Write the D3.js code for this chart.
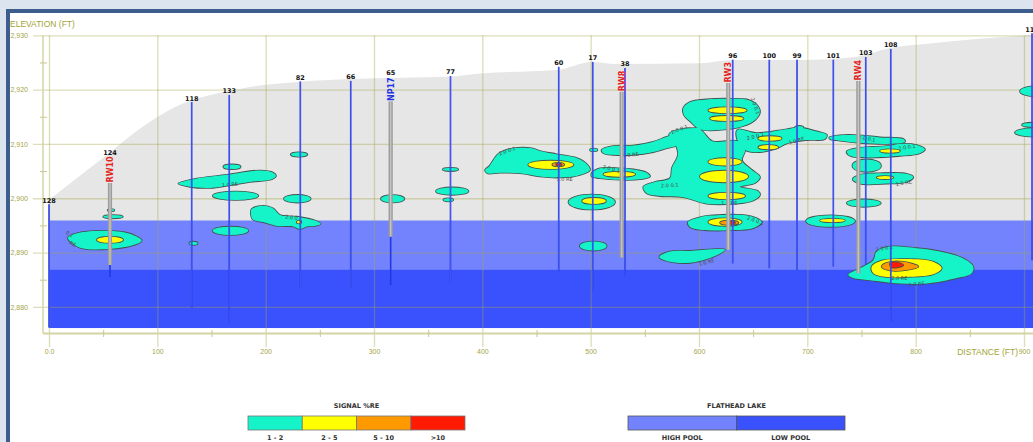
<!DOCTYPE html>
<html><head><meta charset="utf-8">
<script src="https://cdn.jsdelivr.net/npm/d3@7"></script>
<style>
html,body{margin:0;padding:0;background:#dce4ef;overflow:hidden}
svg{display:block}
</style></head><body>
<svg id="chart" width="1033" height="442"></svg>
<script>
// ---------------- DATA ----------------
const xTicks = [0,100,200,300,400,500,600,700,800,900];
const xTickLabels = ["0.0","100","200","300","400","500","600","700","800","900"];
const xMinorTicks = [50,150,250,350,450,550,650,750,850];
const yTicks = [2880,2890,2900,2910,2920,2930];
const yTickLabels = ["2,880","2,890","2,900","2,910","2,920","2,930"];
const yMinorTicks = [2885,2895,2905,2915,2925];

// ground surface profile [distance ft, elevation ft]
const groundProfile = [[0,2899.7],[47,2907.0],[93.2,2914.1],[124,2917.5],[154.8,2919.3],[185.5,2920.5],[231.7,2921.45],[277.8,2921.95],[370.2,2922.4],[400.6,2923.0],[468.6,2923.6],[501,2925.1],[524,2924.7],[601,2924.85],[631.1,2925.45],[693.2,2925.45],[745.6,2926.06],[776.3,2927.66],[813.2,2928.5],[912,2930.1]];

// Flathead Lake pools
const lakeNames = ["HIGH POOL","LOW POOL"];
const lakeTops = [2895.9, 2886.9];
const lakeBottom = 2876.1;
const lakeColors = ["#7383fd","#3a52fe"];

// wells [label, distance, top elev, bottom elev]
const wells = [
 ["128",0,2898.9,2876.2],["124",56.3,2907.6,2885.5],["118",131.7,2917.7,2879.8],
 ["133",166.4,2919.0,2877.0],["82",232.0,2921.5,2883.4],["66",278.5,2921.6,2883.5],
 ["65",315.4,2922.4,2884.0],["77",370.6,2922.5,2884.4],["60",470.5,2924.2,2886.4],
 ["17",501.9,2925.1,2882.9],["38",531.7,2924.0,2885.7],["96",631.1,2925.5,2888.0],
 ["100",664.9,2925.5,2887.1],["99",690.5,2925.5,2886.8],["101",724.0,2925.5,2887.4],
 ["103",753.9,2926.0,2887.7],["108",777.0,2927.5,2877.2],["111",907.4,2930.4,2888.6]
];
// recovery / monitoring wells [label, distance, top, bottom, label colour]
const rods = [
 ["RW10",56.3,2902.8,2887.7,"#e4241d"],["NP17",315.4,2917.8,2892.9,"#2334e2"],
 ["RW8",528.6,2919.6,2889.1,"#e4241d"],["RW3",627.0,2921.2,2890.5,"#e4241d"],
 ["RW4",747.1,2921.6,2886.2,"#e4241d"]
];

// signal contours: polygons [[ft,elev],...] and ellipses [cx,cy,rx,ry]
const cyanPolys = [
 [[17.5,2892.7],[26.8,2893.6],[70.2,2893.7],[85.6,2892.2],[72.9,2891.1],[28.6,2890.9]],
 [[119.4,2902.7],[133.2,2903.5],[164.0,2904.3],[194.8,2905.1],[207.0,2904.7],[209.5,2904.1],[205.6,2903.5],[185.5,2903.0],[167.1,2902.4],[148.6,2901.9],[130.2,2902.1]],
 [[187.1,2898.0],[197.8,2898.6],[207.0,2898.1],[213.2,2896.9],[228.6,2896.6],[245.5,2895.9],[250.8,2895.3],[245.5,2894.9],[237.9,2894.8],[231.7,2894.3],[225.5,2894.8],[210.2,2894.9],[197.8,2895.6],[188.0,2896.1],[186.5,2896.9]],
 [[402.5,2905.2],[406.4,2905.9],[413.8,2908.0],[419.4,2908.7],[428.6,2909.2],[445.6,2909.2],[453.2,2908.7],[468.6,2908.1],[487.1,2907.4],[496.3,2906.3],[499.4,2905.2],[494.8,2904.6],[484.0,2904.0],[468.6,2903.8],[453.2,2904.0],[434.8,2904.6],[416.3,2904.7],[404.6,2904.6]],
 [[501.0,2904.6],[508.6,2905.5],[527.1,2905.5],[539.4,2905.3],[551.7,2904.7],[554.8,2904.0],[545.5,2903.5],[527.1,2903.4],[508.6,2903.7],[501.0,2904.0]],
 [[510.2,2908.9],[520.9,2909.6],[539.4,2909.7],[557.8,2910.4],[570.2,2911.3],[585.5,2912.25],[600.9,2912.9],[600.9,2910.7],[588.6,2910.1],[570.2,2909.2],[557.8,2908.5],[539.4,2908.0],[520.9,2908.0],[511.7,2908.3]],
 [[585.5,2916.6],[591.7,2917.7],[607.1,2918.2],[631.7,2918.3],[645.5,2918.1],[653.3,2917.2],[656.3,2915.9],[651.7,2914.4],[640.9,2913.3],[625.6,2912.7],[600.9,2912.7],[591.7,2914.2],[586.2,2915.3]],
 [[635.5,2912.6],[653.3,2912.0],[681.0,2912.7],[693.2,2913.0],[708.6,2912.3],[717.9,2911.7],[716.3,2910.9],[699.4,2910.7],[681.0,2910.1],[671.7,2909.2],[656.3,2908.5],[642.5,2908.9],[635.5,2910.7]],
 [[572.5,2911.8],[582.8,2912.7],[600.9,2912.6],[612.3,2910.5],[636.0,2910.5],[642.5,2908.9],[639.7,2907.0],[648.9,2905.2],[656.3,2903.9],[651.7,2902.8],[637.8,2902.1],[654.5,2901.3],[656.3,2900.6],[648.9,2899.5],[633.2,2899.0],[607.1,2899.0],[585.5,2900.2],[564.0,2900.4],[551.7,2900.9],[548.6,2902.1],[559.4,2903.0],[573.2,2903.7],[575.1,2905.6],[580.6,2908.0],[577.8,2910.2]],
 [[589.8,2895.6],[600.9,2896.5],[610.2,2896.8],[640.9,2896.9],[653.3,2896.3],[657.9,2895.6],[650.1,2894.5],[628.6,2894.1],[600.9,2894.2],[591.7,2894.7]],
 [[563.4,2889.2],[573.2,2890.2],[591.7,2890.3],[613.2,2890.6],[624.0,2890.5],[616.3,2889.5],[607.1,2888.8],[591.7,2888.1],[573.2,2888.3]],
 [[720.3,2911.2],[730.2,2911.6],[748.6,2911.6],[767.1,2911.2],[788.6,2910.9],[790.2,2910.4],[773.3,2910.0],[748.6,2910.2],[730.2,2910.6],[720.9,2910.9]],
 [[736.3,2908.6],[745.6,2909.2],[773.3,2909.6],[785.5,2910.0],[800.9,2909.8],[808.6,2909.0],[804.0,2908.3],[785.5,2907.8],[754.8,2907.5],[739.4,2907.8]],
 [[741.9,2903.5],[748.6,2904.3],[767.1,2904.6],[791.7,2904.5],[797.8,2903.9],[791.7,2903.0],[773.3,2902.7],[748.6,2902.7]],
 [[737.8,2885.9],[748.6,2887.1],[760.9,2888.6],[764.0,2890.2],[776.3,2891.1],[800.9,2890.8],[822.5,2890.2],[844.0,2888.9],[853.2,2887.4],[851.7,2886.2],[837.9,2885.3],[810.2,2884.3],[785.5,2884.3],[757.8,2884.9],[742.4,2885.3]]
];
const cyanEllipses = [
 [59.1,2896.6,9.1,0.3],[57.2,2897.8,3,0.2],[133.4,2891.7,3.8,0.3],[167.5,2894.0,16.4,0.77],
 [168.9,2905.8,8,0.43],[172.2,2900.45,21,0.77],[230.8,2908.05,7.7,0.4],[229.2,2899.9,12.3,0.7],
 [317.2,2899.9,10.8,0.68],[370.6,2905.3,7.2,0.3],[372.2,2901.3,15,0.68],[368.6,2899.7,4.6,0.3],
 [502.8,2908.9,3.4,0.24],[501.0,2899.3,21.5,1.38],[502.4,2891.2,12.3,0.83],[721.4,2895.8,22.6,1.07],
 [754.8,2906.0,13.2,1.14],[752.1,2899.1,15.7,0.68],[692.5,2913.0,3.9,0.31],
 [911.1,2919.7,14.8,0.92],[912.9,2913.5,14.8,0.42],[910.2,2912.1,18.5,0.77]
];
const yellowPolys = [
 [[759.4,2887.4],[768.6,2888.5],[791.7,2888.8],[816.3,2888.3],[824.0,2887.1],[816.3,2886.0],[791.7,2885.5],[773.3,2885.5],[760.9,2886.2]]
];
const yellowEllipses = [
 [56.3,2892.35,12,0.55],[230.8,2895.6,2,0.25],[463.2,2906.15,20.8,0.77],[526.4,2904.4,14.6,0.46],
 [503.1,2899.5,11,0.55],[665.5,2911.0,10.8,0.42],[664.0,2909.4,9.2,0.4],[624.0,2906.7,15.4,0.68],
 [623.1,2904.0,22.2,1.07],[625.6,2900.4,16.9,0.59],[626.3,2916.2,17.7,0.55],[625.6,2914.7,15.4,0.46],
 [624.0,2895.6,15.4,0.7],[723.2,2895.9,11.5,0.31],[776.3,2908.7,9.2,0.31],[771.7,2903.8,7.7,0.28]
];
const orangePolys = [
 [[768.6,2887.4],[773.3,2888.1],[788.6,2888.3],[802.5,2887.4],[791.7,2886.8],[776.3,2886.7]]
];
const orangeEllipses = [[470.1,2906.2,5.5,0.33],[627.9,2895.5,8.5,0.4]];
const redPolys = [
 [[776.3,2888.0],[782.5,2888.2],[788.6,2887.7],[784.0,2887.3],[777.8,2887.3]]
];
const redEllipses = [[470.6,2906.2,2.5,0.18],[630.2,2895.5,3,0.22]];

// contour labels [text, ft, elev, angle]
const contourLabels = [
 ["0.1",19,2893.4,35],["RE",22,2891.6,30],["1.0 RE",167,2902.5,-4],["2.0 0.1",226,2896.4,8],
 ["2.0 0.1",423,2908.7,-20],["1.0 RE",476,2903.5,0],["1.0 RE",537,2908.0,-5],["2.0 0.1",519,2905.4,15],
 ["2.0 0.1",582,2912.7,-20],["2.0 0.1",573,2902.4,-3],["1.0 RE",628,2899.0,0],["2.0 0.1",652,2917.0,70],
 ["2.0 0.1",652,2911.4,-15],["1.0 RE",690,2910.6,-15],["2.0 0.1",652,2895.9,20],["2.0 0.1",755,2911.0,10],
 ["2.0 0.1",792,2909.4,-10],["1.0 RE",789,2902.8,-10],["2.0 0.1",771,2890.8,-10],["2.0 RE",785,2885.2,0],
 ["1.0 RE",801,2884.2,-5],["1.0 RE",607,2888.2,-15]
];

// legend
const signalClasses = ["1 - 2","2 - 5","5 - 10",">10"];
const signalColors = ["#14f4c8","#ffff00","#ff9900","#ff1a00"];

// ---------------- DRAW ----------------
const W = 1033, H = 442;
const svg = d3.select("#chart");
const x = d3.scaleLinear().domain([0,900]).range([49,1024]);
const y = d3.scaleLinear().domain([2875,2930]).range([334,35.3]);
const axisCol = "#a5a546";

// panel
svg.append("rect").attr("x",8).attr("y",11).attr("width",W+20).attr("height",H+20)
  .attr("fill","#fff").attr("stroke","#3d5d8c").attr("stroke-width",4);

// ground
const area = d3.area().x(d=>x(d[0])).y0(y(lakeBottom)).y1(d=>y(d[1])).curve(d3.curveMonotoneX);
svg.append("path").datum(groundProfile).attr("d",area).attr("fill","#e6e6e6");

// lake
lakeTops.forEach((t,i)=>{
  const bottom = i < lakeTops.length-1 ? lakeTops[i+1] : lakeBottom;
  svg.append("rect").attr("x",x(0)).attr("y",y(t)).attr("width",x(912)-x(0))
    .attr("height",y(bottom)-y(t)).attr("fill",lakeColors[i]);
});

// grid via axes
const gridCol = "rgba(165,165,70,0.38)";
const yGrid = svg.append("g").attr("transform","translate(33,0)")
  .call(d3.axisLeft(y).tickValues(yTicks).tickSize(-(W-33)).tickPadding(5)
    .tickFormat((d,i)=>yTickLabels[i]));
yGrid.select(".domain").remove();
yGrid.selectAll("line").attr("stroke",gridCol).attr("stroke-width",1.3);
yGrid.selectAll("text").attr("fill",axisCol).style("font","7px 'Liberation Sans',Arial,sans-serif");

const xGrid = svg.append("g").attr("transform",`translate(0,${y(2930)})`)
  .call(d3.axisBottom(x).tickValues(xTicks).tickSize(347-y(2930)).tickPadding(2)
    .tickFormat((d,i)=>xTickLabels[i]));
xGrid.select(".domain").remove();
xGrid.selectAll("line").attr("stroke",gridCol).attr("stroke-width",1.3);
xGrid.selectAll("text").attr("fill",axisCol).style("font","7px 'Liberation Sans',Arial,sans-serif");

// axis lines + minor ticks
svg.append("line").attr("x1",43).attr("x2",43).attr("y1",y(2930)).attr("y2",333.5)
  .attr("stroke","#d4d4a4").attr("stroke-width",1.5);
svg.append("line").attr("x1",43).attr("x2",W).attr("y1",333.5).attr("y2",333.5)
  .attr("stroke","#d4d4a4").attr("stroke-width",1.8);
const yMinor = svg.append("g").attr("transform","translate(47,0)")
  .call(d3.axisLeft(y).tickValues(yMinorTicks).tickSize(7).tickFormat(""));
yMinor.select(".domain").remove();
yMinor.selectAll("line").attr("stroke","#c8c890").attr("stroke-width",1);
const xMinor = svg.append("g").attr("transform","translate(0,330)")
  .call(d3.axisBottom(x).tickValues(xMinorTicks).tickSize(7).tickFormat(""));
xMinor.select(".domain").remove();
xMinor.selectAll("line").attr("stroke","#c8c890").attr("stroke-width",1);

svg.append("text").attr("x",10).attr("y",27).text("ELEVATION (FT)")
  .attr("fill","#a3a336").style("font","8.5px 'Liberation Sans',Arial,sans-serif");
svg.append("text").attr("x",1018).attr("y",355).attr("text-anchor","end").text("DISTANCE (FT)")
  .attr("fill","#a3a336").style("font","8.5px 'Liberation Sans',Arial,sans-serif");

// contours
const line = d3.line().x(d=>x(d[0])).y(d=>y(d[1])).curve(d3.curveCatmullRomClosed.alpha(0.5));
const outline = "#43524f";
function drawLevel(polys, ells, color){
  const g = svg.append("g");
  // outlines (union trick)
  polys.forEach(p=>g.append("path").attr("d",line(p)).attr("fill",outline).attr("stroke",outline).attr("stroke-width",1.7));
  ells.forEach(e=>g.append("ellipse").attr("cx",x(e[0])).attr("cy",y(e[1]))
    .attr("rx",x(e[0]+e[2])-x(e[0])).attr("ry",y(e[1]-e[3])-y(e[1]))
    .attr("fill",outline).attr("stroke",outline).attr("stroke-width",1.7));
  polys.forEach(p=>g.append("path").attr("d",line(p)).attr("fill",color));
  ells.forEach(e=>g.append("ellipse").attr("cx",x(e[0])).attr("cy",y(e[1]))
    .attr("rx",x(e[0]+e[2])-x(e[0])).attr("ry",y(e[1]-e[3])-y(e[1])).attr("fill",color));
}
drawLevel(cyanPolys, cyanEllipses, signalColors[0]);
drawLevel(yellowPolys, yellowEllipses, signalColors[1]);
drawLevel(orangePolys, orangeEllipses, signalColors[2]);
drawLevel(redPolys, redEllipses, signalColors[3]);

svg.append("g").selectAll("text").data(contourLabels).join("text")
  .attr("transform",d=>`translate(${x(d[1])},${y(d[2])}) rotate(${d[3]})`)
  .attr("text-anchor","middle").attr("dy","0.35em").text(d=>d[0])
  .attr("fill","#4a4a4a").style("font","5px 'DejaVu Sans',sans-serif");

// rods
rods.forEach(r=>{
  svg.append("line").attr("x1",x(r[1])).attr("x2",x(r[1])).attr("y1",y(r[2])).attr("y2",y(r[3]))
    .attr("stroke","#9c9c9c").attr("stroke-width",4.2);
  svg.append("line").attr("x1",x(r[1])).attr("x2",x(r[1])).attr("y1",y(r[2])).attr("y2",y(r[3]))
    .attr("stroke","#c4c4c4").attr("stroke-width",1.4);
});

// wells
wells.forEach(w=>{
  const rod = rods.find(r=>Math.abs(r[1]-w[1])<0.5);
  if(rod){
    // only the part below the rod is visible
    svg.append("line").attr("x1",x(w[1])).attr("x2",x(w[1])).attr("y1",y(rod[3])).attr("y2",y(w[3]))
      .attr("stroke","#2238e6").attr("stroke-width",1.6);
  } else {
    svg.append("line").attr("x1",x(w[1])).attr("x2",x(w[1])).attr("y1",y(w[2])).attr("y2",y(w[3]))
      .attr("stroke","#2238e6").attr("stroke-width",1.6);
    svg.append("line").attr("x1",x(w[1])).attr("x2",x(w[1])).attr("y1",y(w[2])).attr("y2",y(w[3]))
      .attr("stroke","#6677ff").attr("stroke-width",0.5);
  }
});
svg.append("g").selectAll("text").data(wells).join("text")
  .attr("x",d=>x(d[1])).attr("y",d=>y(d[2])-1.6).attr("text-anchor","middle").text(d=>d[0])
  .attr("fill","#111").style("font","bold 6.5px 'DejaVu Sans',sans-serif");
svg.append("g").selectAll("text").data(rods).join("text")
  .attr("transform",d=>`translate(${x(d[1])},${y(d[2])-0.5}) rotate(-90)`)
  .attr("dy","0.36em").text(d=>d[0]).attr("fill",d=>d[4])
  .style("font","bold 8px 'DejaVu Sans',sans-serif");

// legend: signal
const lbx = d3.scaleBand().domain(signalClasses).range([248,465]);
const lg = svg.append("g");
lg.append("text").attr("x",(248+465)/2).attr("y",407.5).attr("text-anchor","middle").text("SIGNAL %RE")
  .attr("fill","#333").style("font","bold 6.5px 'DejaVu Sans',sans-serif");
lg.selectAll("rect").data(signalClasses).join("rect")
  .attr("x",d=>lbx(d)).attr("y",416).attr("width",lbx.bandwidth()).attr("height",14)
  .attr("fill",(d,i)=>signalColors[i]).attr("stroke","#777").attr("stroke-width",0.8);
lg.selectAll("text.l").data(signalClasses).join("text").attr("class","l")
  .attr("x",d=>lbx(d)+lbx.bandwidth()/2).attr("y",439.5).attr("text-anchor","middle").text(d=>d)
  .attr("fill","#333").style("font","bold 6.5px 'DejaVu Sans',sans-serif");

// legend: lake
const llx = d3.scaleBand().domain(lakeNames).range([628,845]);
const lk = svg.append("g");
lk.append("text").attr("x",(628+845)/2).attr("y",407.5).attr("text-anchor","middle").text("FLATHEAD LAKE")
  .attr("fill","#333").style("font","bold 6.5px 'DejaVu Sans',sans-serif");
lk.selectAll("rect").data(lakeNames).join("rect")
  .attr("x",d=>llx(d)).attr("y",416).attr("width",llx.bandwidth()).attr("height",14)
  .attr("fill",(d,i)=>lakeColors[i]).attr("stroke","#555").attr("stroke-width",0.8);
lk.selectAll("text.l").data(lakeNames).join("text").attr("class","l")
  .attr("x",d=>llx(d)+llx.bandwidth()/2).attr("y",439.5).attr("text-anchor","middle").text(d=>d)
  .attr("fill","#333").style("font","bold 6.5px 'DejaVu Sans',sans-serif");
</script>
</body></html>
